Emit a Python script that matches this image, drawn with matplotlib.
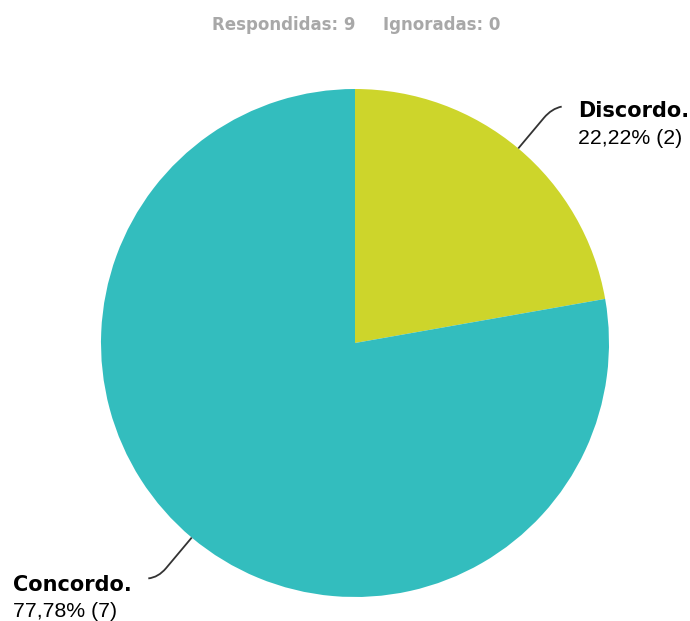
import numpy as np
import matplotlib.pyplot as plt
from matplotlib.path import Path
from matplotlib.patches import PathPatch

plt.rcParams['font.family'] = ['Liberation Sans', 'DejaVu Sans']

labels = ['Discordo.', 'Concordo.']
counts = [2, 7]
colors = ['#CDD52B', '#33BDBE']
answered = 9
ignored = 0

W, H = 690, 621
fig = plt.figure(figsize=(W / 100, H / 100), dpi=100)
ax = fig.add_axes([0, 0, 1, 1])

cx, cy, r = 355, H - 343, 254
wedges, _ = ax.pie(counts, colors=colors, startangle=90, counterclock=False,
                   center=(cx, cy), radius=r, frame=True,
                   wedgeprops=dict(linewidth=0))
ax.set_xlim(0, W)
ax.set_ylim(0, H)
ax.axis('off')

total = sum(counts)
# text left x, baselines of the two lines (pixels from top)
label_pos = [(578, 117, 144), (13, 591, 617)]
for w, lab, n, (tx, y1, y2) in zip(wedges, labels, counts, label_pos):
    mid = np.deg2rad((w.theta1 + w.theta2) / 2)
    d = np.array([np.cos(mid), np.sin(mid)])
    p0 = np.array([cx, cy]) + r * d
    pa = p0 + 40 * d
    p1 = p0 + 52 * d
    side = 1 if d[0] > 0 else -1
    p2 = np.array([p1[0] + side * 10, p1[1] + (2 if d[1] > 0 else -1)])
    path = Path([p0, pa, p1, p2],
                [Path.MOVETO, Path.LINETO, Path.CURVE3, Path.CURVE3])
    ax.add_patch(PathPatch(path, fill=False, lw=1.3, color='#333333'))
    pct = f'{n / total * 100:.2f}'.replace('.', ',')
    ax.text(tx, H - y1, lab, fontsize=15, fontweight='bold', color='black',
            family='DejaVu Sans', ha='left', va='baseline')
    ax.text(tx, H - y2, f'{pct}% ({n})', fontsize=15.3, color='black',
            ha='left', va='baseline')

ax.text(212, H - 30, f'Respondidas: {answered}', fontsize=12, fontweight='bold',
        family='DejaVu Sans', color='#A8A8A8', ha='left', va='baseline')
ax.text(383, H - 30, f'Ignoradas: {ignored}', fontsize=12, fontweight='bold',
        family='DejaVu Sans', color='#A8A8A8', ha='left', va='baseline')

fig.savefig('out.png', dpi=100)
